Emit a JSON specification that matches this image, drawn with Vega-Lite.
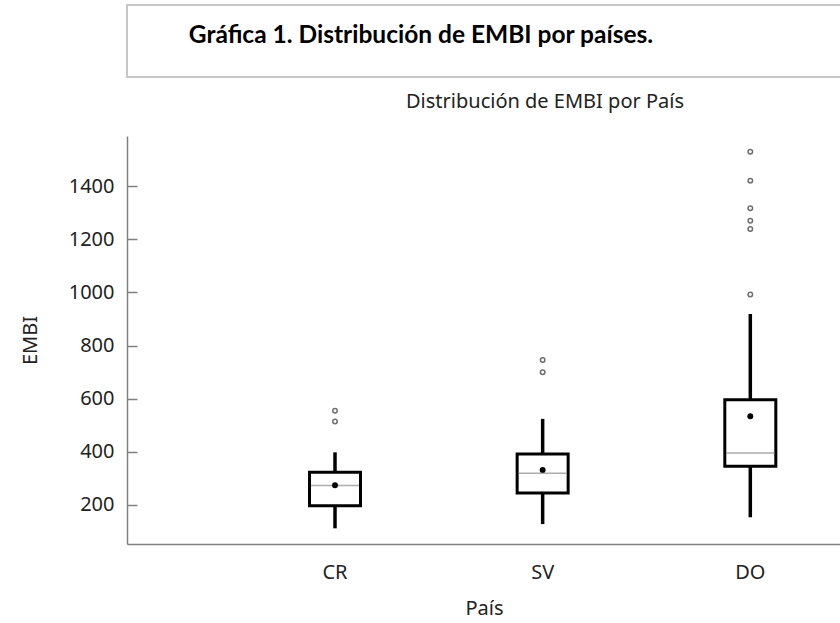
{
  "$schema": "https://vega.github.io/schema/vega-lite/v6.json",
  "padding": {"left": 20, "top": 4, "right": 0, "bottom": 0},
  "background": "white",
  "config": {"font": "Noto Sans"},
  "spacing": 14,
  "datasets": {
    "header": [{"t": "Gráfica 1. Distribución de EMBI por países."}],
    "stats": [
      {"pais": "CR", "lower": 112, "q1": 197, "median": 273, "q3": 323, "upper": 398, "mean": 274},
      {"pais": "SV", "lower": 128, "q1": 245, "median": 319, "q3": 392, "upper": 524, "mean": 332},
      {"pais": "DO", "lower": 154, "q1": 346, "median": 396, "q3": 596, "upper": 919, "mean": 534}
    ],
    "outliers": [
      {"pais": "CR", "EMBI": 555}, {"pais": "CR", "EMBI": 514},
      {"pais": "SV", "EMBI": 746}, {"pais": "SV", "EMBI": 700},
      {"pais": "DO", "EMBI": 1530}, {"pais": "DO", "EMBI": 1421}, {"pais": "DO", "EMBI": 1317},
      {"pais": "DO", "EMBI": 1270}, {"pais": "DO", "EMBI": 1239}, {"pais": "DO", "EMBI": 992}
    ]
  },
  "vconcat": [
    {
      "width": 830,
      "height": 72,
      "view": {"stroke": "#c6c6c6", "strokeWidth": 2},
      "data": {"name": "header"},
      "mark": {"type": "text", "font": "Lato", "fontWeight": "bold", "fontSize": 24.5, "color": "#000000", "dx": -121, "dy": -5},
      "encoding": {"text": {"field": "t", "type": "nominal"}}
    },
    {
      "width": 714,
      "height": 408,
      "view": {"stroke": null},
      "title": {
        "text": "Distribución de EMBI por País",
        "font": "Noto Sans",
        "fontSize": 20,
        "fontWeight": "normal",
        "color": "#222222",
        "anchor": "middle",
        "frame": "group",
        "dx": 61,
        "offset": 24
      },
      "encoding": {
        "x": {
          "field": "pais",
          "type": "nominal",
          "title": "País",
          "scale": {"domain": ["CR", "SV", "DO"], "paddingInner": 0.5, "paddingOuter": 0.4692, "align": 0.801},
          "axis": {
            "labelAngle": 0,
            "ticks": false,
            "domainColor": "#808080",
            "domainWidth": 1.5,
            "labelFontSize": 20,
            "labelColor": "#222222",
            "labelPadding": 18,
            "titleFontSize": 20,
            "titleFontWeight": "normal",
            "titleColor": "#222222",
            "titlePadding": 16
          }
        }
      },
      "layer": [
        {
          "data": {"name": "stats"},
          "mark": {"type": "rule", "color": "#000000", "strokeWidth": 3.5},
          "encoding": {
            "y": {
              "field": "lower",
              "type": "quantitative",
              "title": "EMBI",
              "scale": {"domain": [53, 1589], "nice": false, "zero": false},
              "axis": {
                "values": [200, 400, 600, 800, 1000, 1200, 1400],
                "format": "d",
                "grid": false,
                "domainColor": "#808080",
                "domainWidth": 1.5,
                "tickColor": "#808080",
                "tickWidth": 1.5,
                "tickSize": -10,
                "labelPadding": 23,
                "labelFontSize": 20,
                "labelColor": "#222222",
                "titleFontSize": 20,
                "titleFontWeight": "normal",
                "titleColor": "#222222",
                "titlePadding": 28
              }
            },
            "y2": {"field": "upper"}
          }
        },
        {
          "data": {"name": "stats"},
          "mark": {"type": "bar", "width": 51, "fill": "#ffffff", "stroke": "#000000", "strokeWidth": 3},
          "encoding": {
            "y": {"field": "q1", "type": "quantitative"},
            "y2": {"field": "q3"}
          }
        },
        {
          "data": {"name": "stats"},
          "mark": {"type": "tick", "color": "#8a8a8a", "size": 48, "thickness": 1.5},
          "encoding": {
            "y": {"field": "median", "type": "quantitative"}
          }
        },
        {
          "data": {"name": "stats"},
          "mark": {"type": "point", "shape": "circle", "filled": true, "color": "#000000", "size": 35, "opacity": 1},
          "encoding": {
            "y": {"field": "mean", "type": "quantitative"}
          }
        },
        {
          "data": {"name": "outliers"},
          "mark": {"type": "point", "shape": "circle", "filled": false, "stroke": "#6e6e6e", "strokeWidth": 1.5, "size": 20, "opacity": 1},
          "encoding": {
            "y": {"field": "EMBI", "type": "quantitative"}
          }
        }
      ]
    }
  ]
}
